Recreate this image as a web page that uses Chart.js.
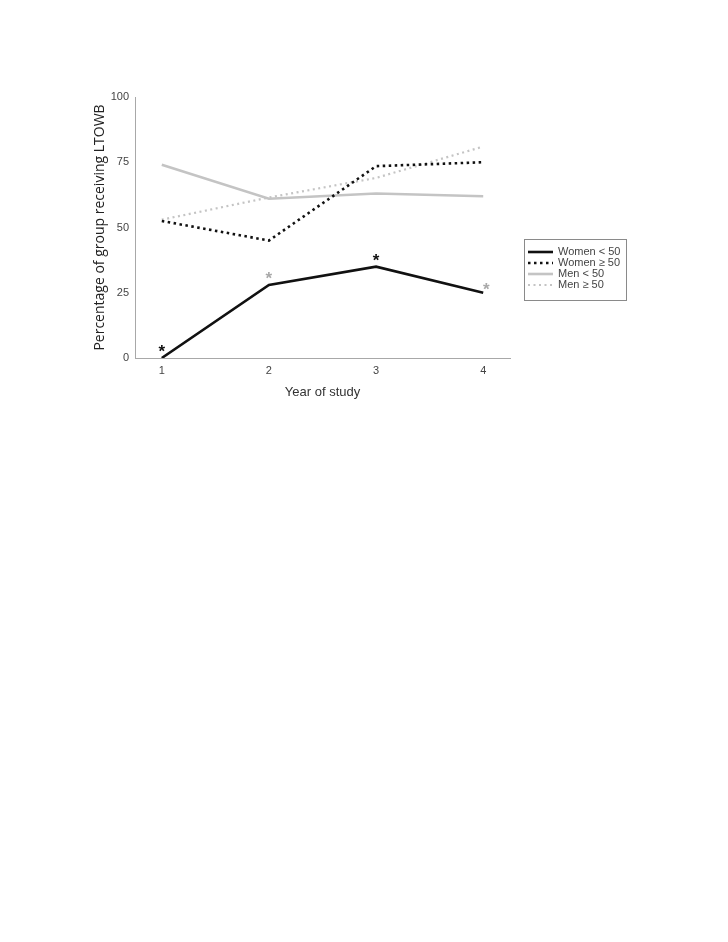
<!DOCTYPE html>
<html>
<head>
<meta charset="utf-8">
<title>LTOWB by year of study</title>
<script src="https://cdn.jsdelivr.net/npm/chart.js@4"></script>
<style>
  html, body { margin: 0; padding: 0; background: #fff; }
  #wrap { position: relative; width: 728px; height: 942px; }
</style>
</head>
<body>
<div id="wrap"><canvas id="chart" width="728" height="942"></canvas></div>
<script>
/* ---- data ---- */
const years = [1, 2, 3, 4];
const yTicks = [0, 25, 50, 75, 100];

const women_lt50 = [0, 28, 35, 25];
const women_ge50 = [52.5, 45, 73.5, 75];
const men_lt50 = [74, 61, 63, 62];
const men_ge50 = [53, 61.5, 69, 81];

// significance marks sit above the Women < 50 line; which group they refer to
const sigGroup = ['women', 'men', 'women', 'men'];

const FONT = "'Liberation Sans', Arial, sans-serif";
const COLORS = {
  black: '#111111',
  gray: '#c4c4c4',
  axis: '#a8a8a8',
  text: '#444444',
};

const series = [
  { label: 'Women < 50', data: women_lt50, color: COLORS.black, dash: [], width: 2.6 },
  { label: 'Women \u2265 50', data: women_ge50, color: COLORS.black, dash: [2.5, 3.5], width: 2.6 },
  { label: 'Men < 50', data: men_lt50, color: COLORS.gray, dash: [], width: 2.6 },
  { label: 'Men \u2265 50', data: men_ge50, color: COLORS.gray, dash: [2, 3.5], width: 2.2 },
];

/* asterisks over the Women < 50 points */
const asteriskPlugin = {
  id: 'asterisks',
  afterDatasetsDraw(chart) {
    const { ctx, scales: { x, y } } = chart;
    ctx.save();
    ctx.font = 'bold 17px ' + FONT;
    ctx.textAlign = 'center';
    ctx.textBaseline = 'alphabetic';
    years.forEach((yr, i) => {
      const last = i === years.length - 1;
      const px = x.getPixelForValue(yr) + (last ? 3 : 0);
      const py = y.getPixelForValue(women_lt50[i]) + (last ? 2 : -1);
      ctx.fillStyle = sigGroup[i] === 'women' ? COLORS.black : '#a9a9a9';
      ctx.fillText('*', px, py);
    });
    ctx.restore();
  },
};

/* boxed legend to the right of the plot */
const legendPlugin = {
  id: 'boxLegend',
  afterDraw(chart) {
    const ctx = chart.ctx;
    const bx = 524, by = 239, bw = 102, bh = 61;
    ctx.save();
    ctx.strokeStyle = '#8a8a8a';
    ctx.lineWidth = 1;
    ctx.strokeRect(bx + 0.5, by + 0.5, bw, bh);
    ctx.font = '11px ' + FONT;
    ctx.textBaseline = 'middle';
    ctx.textAlign = 'left';
    series.forEach((s, i) => {
      const ry = by + 13 + i * 11;
      ctx.beginPath();
      ctx.setLineDash(s.dash);
      ctx.lineWidth = s.width;
      ctx.strokeStyle = s.color;
      ctx.moveTo(bx + 4, ry);
      ctx.lineTo(bx + 29, ry);
      ctx.stroke();
      ctx.setLineDash([]);
      ctx.fillStyle = COLORS.text;
      ctx.fillText(s.label, bx + 34, ry);
    });
    ctx.restore();
  },
};

new Chart(document.getElementById('chart'), {
  type: 'line',
  data: {
    labels: years,
    datasets: series.map(s => ({
      label: s.label,
      data: s.data,
      borderColor: s.color,
      borderWidth: s.width,
      borderDash: s.dash,
      borderCapStyle: 'butt',
      pointRadius: 0,
      tension: 0,
      fill: false,
    })),
  },
  options: {
    responsive: false,
    animation: false,
    layout: { padding: { left: 90, right: 218, top: 97, bottom: 534 } },
    plugins: { legend: { display: false }, tooltip: { enabled: false } },
    scales: {
      x: {
        type: 'linear',
        min: 0.75,
        max: 4.25,
        afterBuildTicks: s => { s.ticks = years.map(v => ({ value: v })); },
        afterFit: s => { s.height = 50; },
        grid: { display: false, drawTicks: false },
        border: { color: COLORS.axis, width: 1 },
        ticks: { color: COLORS.text, font: { family: FONT, size: 11 }, padding: 6 },
        title: {
          display: true,
          text: 'Year of study',
          color: '#333',
          font: { family: FONT, size: 13 },
          padding: { top: 0, bottom: 8 },
        },
      },
      y: {
        min: 0,
        max: 100,
        afterBuildTicks: s => { s.ticks = yTicks.map(v => ({ value: v })); },
        afterFit: s => { s.width = 45; },
        grid: { display: false, drawTicks: false },
        border: { color: COLORS.axis, width: 1 },
        ticks: { color: COLORS.text, font: { family: FONT, size: 11 }, padding: 6 },
        title: {
          display: true,
          text: 'Percentage of group receiving LTOWB',
          color: '#222',
          font: { family: "'Open Sans', sans-serif", size: 14 },
          padding: { top: 2, bottom: 0 },
        },
      },
    },
  },
  plugins: [asteriskPlugin, legendPlugin],
});
</script>
</body>
</html>
